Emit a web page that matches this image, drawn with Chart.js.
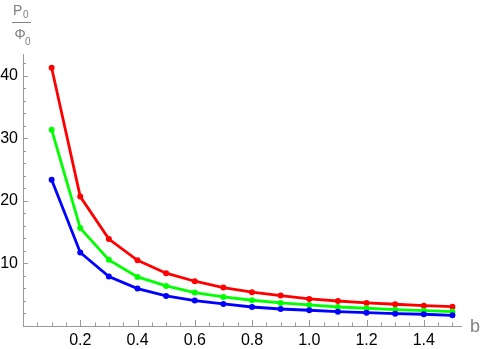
<!DOCTYPE html>
<html>
<head>
<meta charset="utf-8">
<script src="https://cdn.jsdelivr.net/npm/chart.js@4"></script>
<style>
    html, body { margin: 0; padding: 0; background: #fff; }
    #wrap { width: 480px; height: 349px; }
</style>
</head>
<body>
<div id="wrap"><canvas id="myChart" width="480" height="349"></canvas></div>
<script>
const bValues = [0.1, 0.2, 0.3, 0.4, 0.5, 0.6, 0.7, 0.8, 0.9, 1.0, 1.1, 1.2, 1.3, 1.4, 1.5];
const redValues = [41.3, 20.7, 13.9, 10.5, 8.45, 7.16, 6.14, 5.4, 4.86, 4.33, 4.0, 3.69, 3.48, 3.25, 3.09];
const greenValues = [31.4, 15.66, 10.58, 7.85, 6.41, 5.34, 4.65, 4.12, 3.69, 3.37, 3.04, 2.84, 2.61, 2.45, 2.29];
const blueValues = [23.4, 11.75, 7.9, 5.98, 4.81, 4.06, 3.53, 3.04, 2.72, 2.52, 2.29, 2.13, 1.97, 1.88, 1.71];
const xTicks = [0.2, 0.4, 0.6, 0.8, 1.0, 1.2, 1.4];
const yTicks = [10, 20, 30, 40];
const xMinorTicks = [0.05, 0.1, 0.15, 0.25, 0.3, 0.35, 0.45, 0.5, 0.55, 0.65, 0.7, 0.75, 0.85, 0.9, 0.95, 1.05, 1.1, 1.15, 1.25, 1.3, 1.35, 1.45, 1.5];
const yMinorTicks = [2, 4, 6, 8, 12, 14, 16, 18, 22, 24, 26, 28, 32, 34, 36, 38, 42];

const axisColor = '#999999';
const labelColor = '#7f7f7f';

function toPoints(values) {
    return bValues.map((b, i) => ({ x: b, y: values[i] }));
}

function makeSet(values, color) {
    return {
        data: toPoints(values),
        borderColor: color,
        backgroundColor: color,
        borderWidth: 2.8,
        pointRadius: 3,
        pointHoverRadius: 3,
        pointBorderWidth: 0,
        tension: 0
    };
}

// tick marks pointing into the plot, plus the axis labels
const axisDecor = {
    id: 'axisDecor',
    afterDraw(chart) {
        const ctx = chart.ctx;
        const xs = chart.scales.x;
        const ys = chart.scales.y;
        const x0 = xs.getPixelForValue(0);
        const y0 = ys.getPixelForValue(0);
        ctx.save();
        ctx.strokeStyle = axisColor;
        ctx.lineWidth = 1;
        ctx.beginPath();
        xTicks.forEach(v => {
            const px = Math.round(xs.getPixelForValue(v)) + 0.5;
            ctx.moveTo(px, y0); ctx.lineTo(px, y0 - 6);
        });
        xMinorTicks.forEach(v => {
            const px = Math.round(xs.getPixelForValue(v)) + 0.5;
            ctx.moveTo(px, y0); ctx.lineTo(px, y0 - 3.5);
        });
        yTicks.forEach(v => {
            const py = Math.round(ys.getPixelForValue(v)) + 0.5;
            ctx.moveTo(x0, py); ctx.lineTo(x0 + 5, py);
        });
        yMinorTicks.forEach(v => {
            const py = Math.round(ys.getPixelForValue(v)) + 0.5;
            ctx.moveTo(x0, py); ctx.lineTo(x0 + 3, py);
        });
        ctx.stroke();

        // x axis label
        ctx.fillStyle = labelColor;
        ctx.font = '18px "Liberation Sans", Arial, sans-serif';
        ctx.textAlign = 'left';
        ctx.textBaseline = 'alphabetic';
        ctx.fillText('b', 470, 332);

        // y axis label as a fraction P0 / Φ0
        ctx.font = '14px "Liberation Sans", Arial, sans-serif';
        ctx.fillText('P', 13, 15);
        ctx.fillText('Φ', 14.5, 39);
        ctx.font = '10px "Liberation Sans", Arial, sans-serif';
        ctx.fillText('0', 23, 18);
        ctx.fillText('0', 25, 45);
        ctx.strokeStyle = labelColor;
        ctx.beginPath();
        ctx.moveTo(12, 22.5); ctx.lineTo(31, 22.5);
        ctx.stroke();
        ctx.restore();
    }
};

const ctx = document.getElementById('myChart').getContext('2d');
new Chart(ctx, {
    type: 'line',
    data: {
        datasets: [
            makeSet(blueValues, '#0000ff'),
            makeSet(greenValues, '#00ff00'),
            makeSet(redValues, '#ff0000')
        ]
    },
    options: {
        responsive: false,
        animation: false,
        events: [],
        layout: { padding: { top: 54, right: 19, left: 0, bottom: 0 } },
        plugins: {
            legend: { display: false },
            tooltip: { enabled: false }
        },
        scales: {
            x: {
                type: 'linear',
                min: 0,
                max: 1.53,
                grid: { display: false, drawTicks: false },
                border: { display: true, color: axisColor, width: 1 },
                afterBuildTicks: scale => { scale.ticks = xTicks.map(v => ({ value: v })); },
                afterFit: scale => { scale.height = 23; },
                ticks: {
                    color: '#000',
                    padding: 5,
                    maxRotation: 0,
                    autoSkip: false,
                    font: { family: '"Liberation Sans", Arial, sans-serif', size: 16 },
                    callback: v => v.toFixed(1)
                }
            },
            y: {
                type: 'linear',
                min: 0,
                max: 43.5,
                grid: { display: false, drawTicks: false },
                border: { display: true, color: axisColor, width: 1 },
                afterBuildTicks: scale => { scale.ticks = yTicks.map(v => ({ value: v })); },
                afterFit: scale => { scale.width = 23; },
                ticks: {
                    color: '#000',
                    padding: 5,
                    autoSkip: false,
                    font: { family: '"Liberation Sans", Arial, sans-serif', size: 16 },
                    callback: v => String(v)
                }
            }
        }
    },
    plugins: [axisDecor]
});
</script>
</body>
</html>
